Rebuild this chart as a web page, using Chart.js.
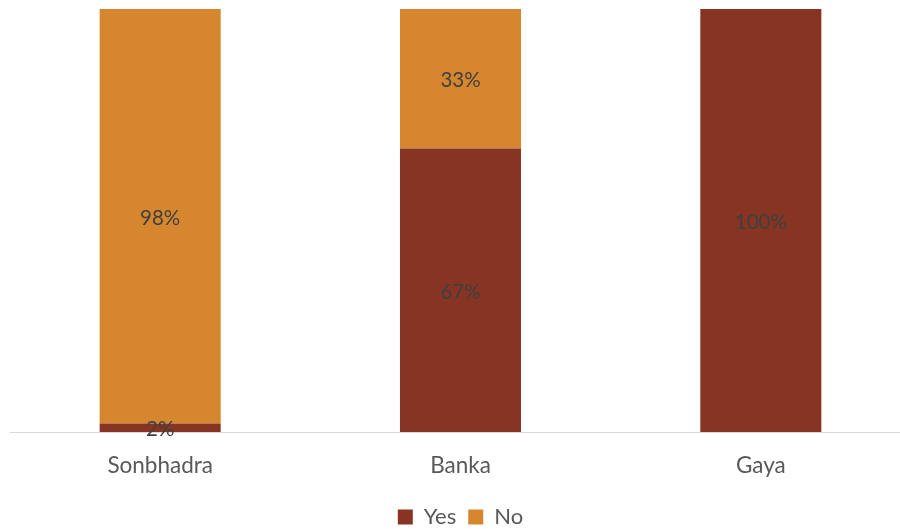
<!DOCTYPE html>
<html>
<head>
<meta charset="utf-8">
<script src="https://cdn.jsdelivr.net/npm/chart.js@4/dist/chart.umd.min.js"></script>
<style>
  html, body { margin: 0; padding: 0; background: #fff; overflow: hidden; }
  #wrap { position: relative; width: 911px; height: 529px; }
</style>
</head>
<body>
<div id="wrap"><canvas id="c" width="911" height="529"></canvas></div>
<script>
const districts = ['Sonbhadra', 'Banka', 'Gaya'];
const yesShare = [2, 67, 100];
const noShare = [98, 33, 0];
const seriesNames = ['Yes', 'No'];

const FONT = 'Lato, "Open Sans", "Liberation Sans", sans-serif';

// Percent labels centred on each stacked segment
const segmentLabels = {
  id: 'segmentLabels',
  afterDatasetsDraw(chart) {
    const ctx = chart.ctx;
    ctx.save();
    ctx.font = '20.5px ' + FONT;
    ctx.fillStyle = '#404040';
    ctx.textAlign = 'center';
    ctx.textBaseline = 'middle';
    chart.data.datasets.forEach((ds, di) => {
      const meta = chart.getDatasetMeta(di);
      meta.data.forEach((bar, i) => {
        const v = ds.data[i];
        if (!v) return;
        const p = bar.getProps(['x', 'y', 'base'], true);
        ctx.fillText(v + '%', p.x, (p.y + p.base) / 2 + 2);
      });
    });
    ctx.restore();
  }
};

new Chart(document.getElementById('c'), {
  type: 'bar',
  data: {
    labels: districts,
    datasets: [
      { label: seriesNames[0], data: yesShare, backgroundColor: '#873423', borderWidth: 0 },
      { label: seriesNames[1], data: noShare, backgroundColor: '#D5862E', borderWidth: 0 }
    ]
  },
  options: {
    responsive: false,
    animation: false,
    layout: { padding: { top: 9, left: 10, right: 0, bottom: -9 } },
    datasets: { bar: { barPercentage: 0.403, categoryPercentage: 1 } },
    scales: {
      x: {
        stacked: true,
        grid: { display: false },
        border: { display: true, color: '#d9d9d9', width: 1 },
        ticks: { color: '#595959', font: { family: FONT, size: 22.5 }, padding: 12 },
        afterFit(scale) { scale.height += 3; }
      },
      y: {
        stacked: true,
        display: false,
        min: 0,
        max: 100
      }
    },
    plugins: {
      legend: {
        position: 'bottom',
        labels: {
          color: '#595959',
          font: { family: FONT, size: 22 },
          boxWidth: 15,
          boxHeight: 15,
          padding: 12
        }
      },
      tooltip: { enabled: false }
    }
  },
  plugins: [segmentLabels]
});
</script>
</body>
</html>
